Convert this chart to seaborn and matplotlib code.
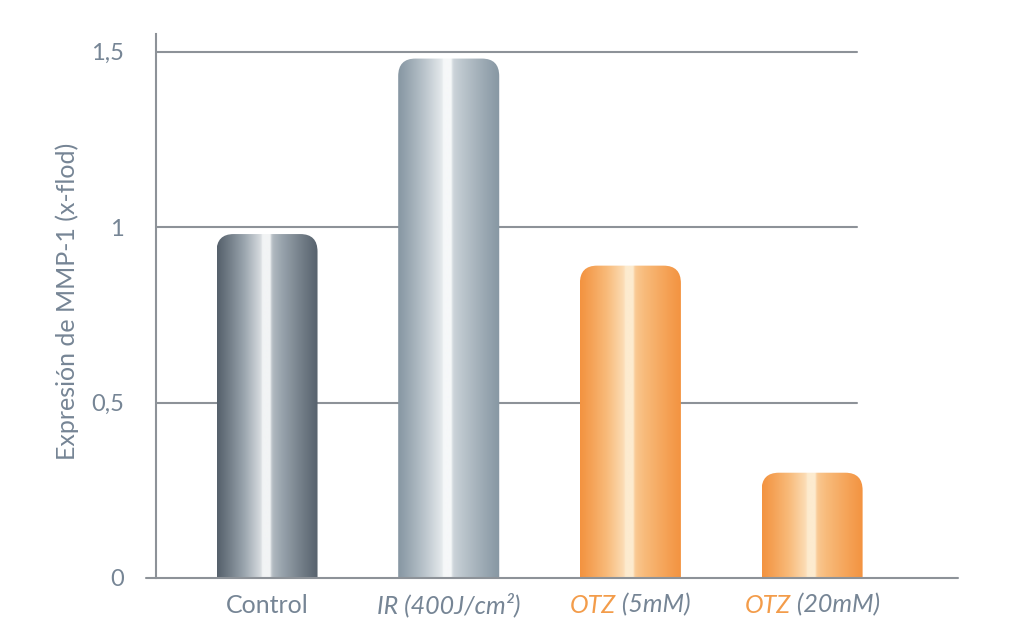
import numpy as np
import matplotlib
matplotlib.use("Agg")
import matplotlib.pyplot as plt
import seaborn as sns
from matplotlib.path import Path
from matplotlib.patches import PathPatch
from matplotlib.colors import to_rgb
from matplotlib.offsetbox import TextArea, HPacker, AnnotationBbox

# ========== DATA ==========
categories = ["Control", "IR", "OTZ5", "OTZ20"]
values = [0.98, 1.48, 0.89, 0.30]
label_parts = [
    [("Control", "gray", "normal")],
    [("IR (400J/cm²)", "gray", "italic")],
    [("OTZ", "orange", "italic"), (" (5mM)", "gray", "italic")],
    [("OTZ", "orange", "italic"), (" (20mM)", "gray", "italic")],
]
yticks = [0, 0.5, 1, 1.5]
ytick_labels = ["0", "0,5", "1", "1,5"]
ylabel = "Expresión de MMP-1 (x-flod)"

# ========== STYLE ==========
TEXT_GRAY = "#768595"
TEXT_ORANGE = "#f39c4a"
LINE_GRAY = "#8d9298"
FONT = ["Lato", "DejaVu Sans"]
# edge, mid, centre colours for each bar gradient
gradients = [
    ("#56616c", "#9aa5ae", "#f2f4f5"),
    ("#8797a3", "#bcc6cd", "#f6f8f9"),
    ("#f39340", "#f8bb7b", "#fdebcf"),
    ("#f39340", "#f8bb7b", "#fdebcf"),
]

sns.set_theme(style="white")
plt.rcParams["font.family"] = FONT


def gradient_row(edge, mid, centre, n=400):
    edge, mid, centre = (np.array(to_rgb(c)) for c in (edge, mid, centre))
    u = np.linspace(0, 1, n)
    d = np.abs(u - 0.5) * 2
    left = (1 - d) ** 1.1
    right = 0.7 * (1 - d) ** 1.1
    b = np.where(u < 0.5, left, right)
    peak = np.exp(-((u - 0.49) / 0.03) ** 2)
    b = np.clip(b + peak, 0, 1)
    cols = np.where(b[:, None] < 0.5,
                    edge + (mid - edge) * (b[:, None] / 0.5),
                    mid + (centre - mid) * ((b[:, None] - 0.5) / 0.5))
    return cols[None, :, :]


def rounded_top(x0, x1, h, rx, ry):
    verts = [(x0, -0.05), (x0, h - ry), (x0, h), (x0 + rx, h),
             (x1 - rx, h), (x1, h), (x1, h - ry), (x1, -0.05), (x0, -0.05)]
    codes = [Path.MOVETO, Path.LINETO, Path.CURVE3, Path.CURVE3,
             Path.LINETO, Path.CURVE3, Path.CURVE3, Path.LINETO, Path.CLOSEPOLY]
    return Path(verts, codes)


fig = plt.figure(figsize=(10.12, 6.42), dpi=100)
ax = fig.add_axes([156 / 1012, 1 - 578 / 642, (958 - 156) / 1012, (578 - 34) / 642])

sns.barplot(x=categories, y=values, hue=categories, palette=["none"] * 4,
            width=0.556, legend=False, ax=ax)

xlim = (-0.611, 3.803)
ylim = (0, 1.55)

for patch, grad in zip(ax.patches, gradients):
    x0 = patch.get_x()
    x1 = x0 + patch.get_width()
    h = patch.get_height()
    patch.set_alpha(0)
    clip = PathPatch(rounded_top(x0, x1, h, 0.095, 0.05), transform=ax.transData,
                     facecolor="none", edgecolor="none")
    ax.add_patch(clip)
    im = ax.imshow(gradient_row(*grad), extent=[x0, x1, 0, h], aspect="auto",
                   interpolation="bilinear", zorder=2)
    im.set_clip_path(clip)

ax.set_xlim(*xlim)
ax.set_ylim(*ylim)

# grid lines stop short of the right end
for y in yticks[1:]:
    ax.axhline(y, xmin=0, xmax=(857 - 156) / (958 - 156), color=LINE_GRAY,
               lw=1.5, zorder=1)

for s in ["top", "right", "bottom"]:
    ax.spines[s].set_visible(False)
ax.spines["left"].set_color(LINE_GRAY)
ax.spines["left"].set_linewidth(1.5)
ax.plot([-10 / 802, 1], [0, 0], transform=ax.get_yaxis_transform(),
        color=LINE_GRAY, lw=1.5, clip_on=False, zorder=3)

ax.set_yticks(yticks)
ax.set_yticklabels(ytick_labels, color=TEXT_GRAY, fontsize=17)
ax.tick_params(axis="y", length=0, pad=23)
ax.set_ylabel(ylabel, color=TEXT_GRAY, fontsize=18)
ax.yaxis.set_label_coords(-77 / 802, 0.508)

ax.set_xticks(range(len(categories)))
ax.set_xticklabels([""] * len(categories))
ax.tick_params(axis="x", length=0)
colour_map = {"gray": TEXT_GRAY, "orange": TEXT_ORANGE}
for i, parts in enumerate(label_parts):
    boxes = [TextArea(t, textprops=dict(color=colour_map[c], style=st, fontsize=18,
                                        family=FONT))
             for t, c, st in parts]
    pack = HPacker(children=boxes, align="baseline", pad=0, sep=0)
    ab = AnnotationBbox(pack, (i, 0), xybox=(0, -19.5), xycoords="data",
                        boxcoords="offset points", frameon=False,
                        box_alignment=(0.5, 0.5), annotation_clip=False)
    ax.add_artist(ab)

fig.savefig("out.png", dpi=100)
